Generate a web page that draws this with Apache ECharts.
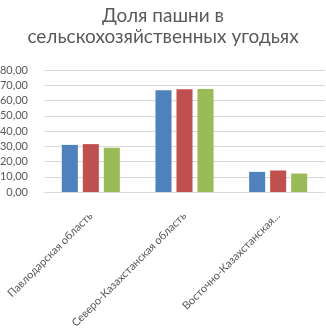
<!DOCTYPE html>
<html>
<head>
<meta charset="utf-8">
<script src="https://cdn.jsdelivr.net/npm/echarts@6/dist/echarts.min.js"></script>
<style>
  html, body { margin: 0; padding: 0; background: #fff; }
  #chart { width: 326px; height: 330px; }
</style>
</head>
<body>
<div id="chart"></div>
<script>
// regions
const categories = ['Павлодарская область', 'Северо-Казахстанская область', 'Восточно-Казахстанская область']
// three series, one per colour (legend not shown in the picture)
const series1 = [30.9, 66.8, 13.2]
const series2 = [31.4, 67.3, 14.1]
const series3 = [29.0, 67.6, 12.1]
const colors = ['#4F81BD', '#C0504D', '#9BBB59']

const chart = echarts.init(document.getElementById('chart'))

const option = {
  animation: false,
  color: colors,
  textStyle: { fontFamily: 'Lato' },
  title: {
    text: 'Доля пашни в\nсельскохозяйственных угодьях',
    left: 'center',
    top: 0,
    textStyle: {
      fontFamily: 'Lato',
      fontSize: 19,
      fontWeight: 'normal',
      color: '#595959',
      lineHeight: 21
    }
  },
  grid: {
    left: 44,
    right: 1,
    top: 70,
    bottom: 138,
    outerBoundsMode: 'none'
  },
  xAxis: {
    type: 'category',
    data: categories,
    axisLine: { lineStyle: { color: '#d9d9d9' } },
    axisTick: { show: false },
    axisLabel: {
      rotate: 45,
      interval: 0,
      fontSize: 11,
      color: '#595959',
      margin: 22,
      formatter: function (v) {
        return v.length > 28 ? v.slice(0, 22) + '...' : v
      }
    }
  },
  yAxis: {
    type: 'value',
    min: 0,
    max: 80,
    interval: 10,
    axisLine: { show: false },
    axisTick: { show: false },
    splitLine: { lineStyle: { color: '#d9d9d9' } },
    axisLabel: {
      fontSize: 11,
      color: '#595959',
      margin: 16,
      formatter: function (v) {
        return v.toFixed(2).replace('.', ',')
      }
    }
  },
  series: [
    { name: 'Ряд1', type: 'bar', data: series1, barGap: '31%', barCategoryGap: '38%' },
    { name: 'Ряд2', type: 'bar', data: series2 },
    { name: 'Ряд3', type: 'bar', data: series3 }
  ]
}

chart.setOption(option)
</script>
</body>
</html>
